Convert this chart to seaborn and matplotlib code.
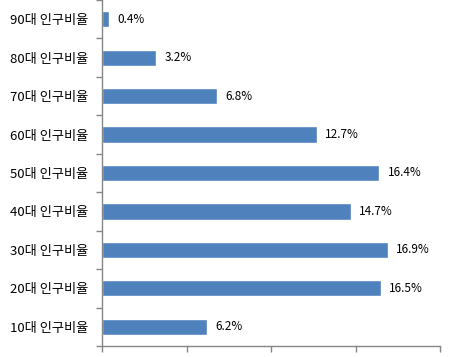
import numpy as np
import pandas as pd
import matplotlib
matplotlib.use('Agg')
import matplotlib.pyplot as plt
import seaborn as sns

categories = ['90대 인구비율', '80대 인구비율', '70대 인구비율', '60대 인구비율', '50대 인구비율',
              '40대 인구비율', '30대 인구비율', '20대 인구비율', '10대 인구비율']
values = [0.4, 3.2, 6.8, 12.7, 16.4, 14.7, 16.9, 16.5, 6.2]
x_ticks = [0, 5, 10, 15, 20]

sns.set_style('white')
plt.rcParams['font.family'] = ['Noto Sans CJK KR', 'DejaVu Sans']

df = pd.DataFrame({'category': categories, 'value': values})

fig = plt.figure(figsize=(4.77, 3.57), dpi=100)
ax = fig.add_axes([102.5 / 477, 1 - 346 / 357, (440 - 102.5) / 477, 346 / 357])

sns.barplot(data=df, x='value', y='category', order=categories, orient='h',
            color='#4F81BD', saturation=1, width=0.42, ax=ax)

ax.bar_label(ax.containers[0], labels=[f'{v:.1f}%' for v in values],
             padding=6, fontsize=8.5, color='black')

ax.set_xlim(0, 20)
ax.set_ylim(len(categories) - 0.5, -0.5)
ax.set_xticks(x_ticks)
ax.set_xticklabels([])
ax.set_xlabel('')
ax.set_ylabel('')

# ticks between categories on the y axis
ax.set_yticks(np.arange(-0.5, len(categories)), minor=True)
ax.tick_params(axis='y', which='major', length=0, pad=10, labelsize=9.5, colors='black')
ax.tick_params(axis='y', which='minor', length=4, width=1, color='#868686', direction='out', left=True)
ax.tick_params(axis='x', which='major', length=4, width=1, color='#868686', direction='out', bottom=True)

for side in ['top', 'right']:
    ax.spines[side].set_visible(False)
for side in ['left', 'bottom']:
    ax.spines[side].set_color('#868686')
    ax.spines[side].set_linewidth(1)

fig.savefig('out.png', dpi=100, facecolor='white')
